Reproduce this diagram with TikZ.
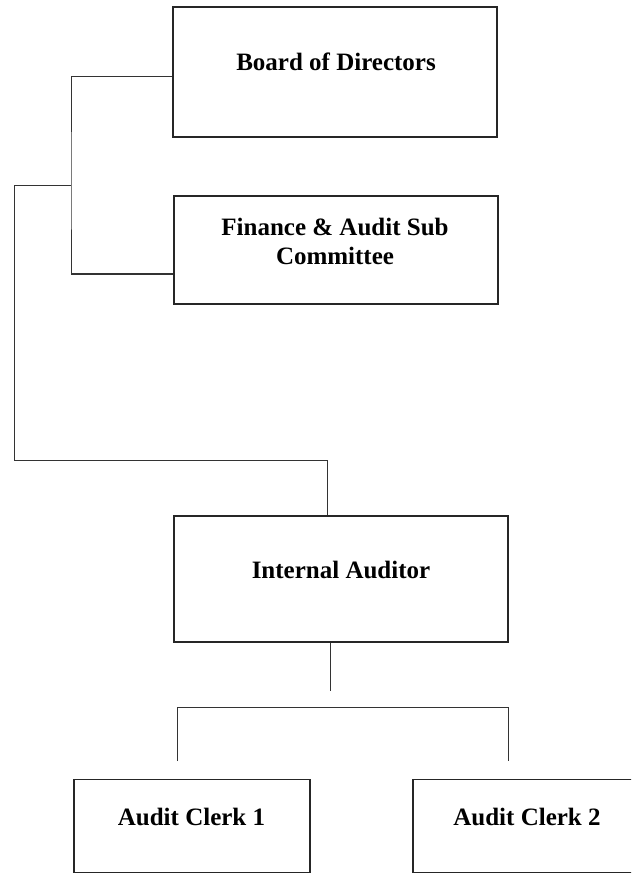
\documentclass[tikz,border=0pt]{standalone}
\usepackage{fontspec}
\setmainfont{Liberation Serif}
\tikzset{
  unit/.style={draw=black!85,line width=1.8pt,inner sep=0pt},
  caption/.style={font=\bfseries\fontsize{25}{29}\selectfont,align=center,inner sep=0pt},
  link/.style={draw=black!80,line width=1pt}
}
\begin{document}
\begin{tikzpicture}[x=1pt,y=-1pt]
\useasboundingbox (0,0) rectangle (631,874);
\clip (0,0) rectangle (631,874);
\node[unit,minimum width=324pt,minimum height=130pt] (board) at (335,72) {};
\node[caption] (boardtxt) at (336,62) {Board of Directors};
\node[unit,minimum width=324pt,minimum height=108pt] (finance) at (336,250) {};
\node[caption] (financetxt) at (335,241.5) {Finance \& Audit Sub\\Committee};
\node[unit,minimum width=334pt,minimum height=126pt] (auditor) at (341,579) {};
\node[caption] (auditortxt) at (341,570) {Internal Auditor};
\node[unit,minimum width=236pt,minimum height=93pt] (clerkA) at (192,826) {};
\node[caption] (clerkAtxt) at (191.5,817) {Audit Clerk 1};
\node[unit,minimum width=236pt,minimum height=93pt] (clerkB) at (531,826) {};
\node[caption] (clerkBtxt) at (527,817) {Audit Clerk 2};
\coordinate (spine) at (71,186);
\coordinate (outer) at (14,186);
\coordinate (elbow) at (14,460);
\coordinate (stub) at (330,691);
\coordinate (barL) at (177,707);
\coordinate (barR) at (508,707);
\coordinate (dropA) at (177,761);
\coordinate (dropB) at (508,761);
\draw[link] ([yshift=-5pt]board.west) -| (spine) |- ([yshift=-24pt]finance.west);
\draw[link] (spine) -- (outer) -- (elbow) -| ([xshift=-14pt]auditor.north);
\draw[link] ([xshift=-11pt]auditor.south) -- (stub);
\draw[link] (dropA) -- (barL) -- (barR) -- (dropB);
\end{tikzpicture}
\end{document}
